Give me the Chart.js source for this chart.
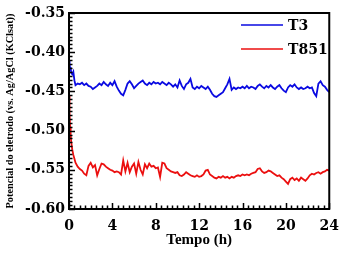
<!DOCTYPE html>
<html><head><meta charset="utf-8">
<script src="https://cdn.jsdelivr.net/npm/chart.js@4.4.1/dist/chart.umd.min.js"></script>
<style>html,body{margin:0;padding:0;background:#fff;}canvas{display:block;}</style>
</head><body>
<canvas id="c" width="348" height="257"></canvas>
<script>
const timeHours = [0,0.05,0.1,0.15,0.2,0.3,0.4,0.5,0.6,0.8,1.0,
 1.2,1.4,1.6,1.8,2.0,2.2,2.4,2.6,2.8,3.0,3.2,3.4,3.6,3.8,4.0,
 4.2,4.4,4.6,4.8,5.0,5.2,5.4,5.6,5.8,6.0,6.2,6.4,6.6,6.8,7.0,
 7.2,7.4,7.6,7.8,8.0,8.2,8.4,8.6,8.8,9.0,9.2,9.4,9.6,9.8,10.0,
 10.2,10.4,10.6,10.8,11.0,11.2,11.4,11.6,11.8,12.0,12.2,12.4,12.6,12.8,13.0,
 13.2,13.4,13.6,13.8,14.0,14.2,14.4,14.6,14.8,15.0,15.2,15.4,15.6,15.8,16.0,
 16.2,16.4,16.6,16.8,17.0,17.2,17.4,17.6,17.8,18.0,18.2,18.4,18.6,18.8,19.0,
 19.2,19.4,19.6,19.8,20.0,20.2,20.4,20.6,20.8,21.0,21.2,21.4,21.6,21.8,22.0,
 22.2,22.4,22.6,22.8,23.0,23.2,23.4,23.6,23.8,24.0];

const seriesT3 = [-0.410,-0.414,-0.422,-0.419,-0.426,-0.428,-0.425,-0.436,-0.442,-0.440,-0.441,
 -0.439,-0.442,-0.440,-0.443,-0.444,-0.447,-0.445,-0.443,-0.440,-0.442,-0.438,-0.441,-0.443,-0.439,-0.442,
 -0.437,-0.444,-0.449,-0.453,-0.455,-0.448,-0.440,-0.437,-0.441,-0.446,-0.443,-0.440,-0.438,-0.436,-0.440,
 -0.442,-0.439,-0.441,-0.438,-0.440,-0.439,-0.441,-0.438,-0.440,-0.442,-0.439,-0.441,-0.444,-0.441,-0.445,
 -0.436,-0.443,-0.447,-0.441,-0.439,-0.434,-0.445,-0.447,-0.444,-0.446,-0.443,-0.445,-0.447,-0.444,-0.448,
 -0.453,-0.456,-0.457,-0.455,-0.453,-0.451,-0.446,-0.441,-0.434,-0.448,-0.445,-0.447,-0.445,-0.446,-0.444,
 -0.446,-0.443,-0.446,-0.444,-0.445,-0.447,-0.443,-0.441,-0.444,-0.446,-0.443,-0.445,-0.442,-0.445,-0.447,
 -0.444,-0.442,-0.446,-0.449,-0.451,-0.445,-0.442,-0.444,-0.441,-0.445,-0.447,-0.445,-0.447,-0.446,-0.444,
 -0.446,-0.445,-0.452,-0.456,-0.440,-0.437,-0.442,-0.444,-0.448,-0.451];

const seriesT851 = [-0.455,-0.478,-0.495,-0.505,-0.514,-0.524,-0.531,-0.536,-0.541,-0.546,-0.549,
 -0.551,-0.555,-0.557,-0.545,-0.541,-0.547,-0.544,-0.557,-0.549,-0.542,-0.543,-0.546,-0.548,-0.550,-0.551,
 -0.553,-0.552,-0.553,-0.556,-0.538,-0.552,-0.541,-0.553,-0.546,-0.542,-0.555,-0.540,-0.550,-0.556,-0.543,
 -0.548,-0.542,-0.546,-0.545,-0.548,-0.547,-0.559,-0.541,-0.542,-0.548,-0.550,-0.552,-0.553,-0.554,-0.553,
 -0.557,-0.558,-0.556,-0.553,-0.555,-0.557,-0.558,-0.559,-0.557,-0.559,-0.558,-0.556,-0.551,-0.550,-0.556,
 -0.558,-0.560,-0.561,-0.559,-0.560,-0.558,-0.560,-0.559,-0.561,-0.559,-0.560,-0.558,-0.557,-0.558,-0.556,
 -0.557,-0.556,-0.557,-0.555,-0.554,-0.553,-0.549,-0.548,-0.552,-0.554,-0.553,-0.551,-0.552,-0.554,-0.556,
 -0.558,-0.557,-0.560,-0.562,-0.565,-0.568,-0.562,-0.560,-0.563,-0.561,-0.564,-0.560,-0.562,-0.564,-0.561,
 -0.557,-0.555,-0.556,-0.554,-0.553,-0.555,-0.553,-0.552,-0.550,-0.551];

const seriesNames = ['T3','T851'];
const seriesColors = ['rgb(10,10,225)','rgb(235,15,15)'];
const xTickLabels = [0,4,8,12,16,20,24];
const yTickLabels = [-0.60,-0.55,-0.50,-0.45,-0.40,-0.35];
const xTitle = 'Tempo (h)';
const yTitle = 'Potencial do eletrodo (vs. Ag/AgCl (KClsat))';

const tickFont = {family:'DejaVu Serif', weight:'bold', size:14};

function pts(vals){ return timeHours.map((t,i)=>({x:t,y:vals[i]})); }

const framePlugin = {
  id:'frame',
  afterDatasetsDraw(chart){
    const {ctx, chartArea:a, scales:{x,y}} = chart;
    ctx.save();
    ctx.strokeStyle='#000';
    ctx.lineWidth=1.5;
    ctx.beginPath();
    for(let k=0;k<=48;k++){
      const px=Math.round(x.getPixelForValue(k*0.5))+0.5;
      const len=(k%8===0)?6:3.5;
      ctx.moveTo(px,a.bottom); ctx.lineTo(px,a.bottom-len);
    }
    for(let k=0;k<=50;k++){
      const v=-0.60+k*0.005;
      const py=Math.round(y.getPixelForValue(v))+0.5;
      const len=(k%10===0)?6:3.5;
      ctx.moveTo(a.left,py); ctx.lineTo(a.left+len,py);
    }
    ctx.stroke();
    ctx.lineWidth=2;
    ctx.strokeRect(a.left,a.top,a.right-a.left,a.bottom-a.top);
    const lx0=241, lx1=283, ly=[25,49];
    ctx.font='bold 14px "DejaVu Serif"';
    ctx.textBaseline='middle';
    ctx.textAlign='left';
    chart.data.datasets.forEach((ds,i)=>{
      ctx.strokeStyle=ds.borderColor; ctx.lineWidth=1.5;
      ctx.beginPath(); ctx.moveTo(lx0,ly[i]); ctx.lineTo(lx1,ly[i]); ctx.stroke();
      ctx.fillStyle='#000';
      ctx.fillText(ds.label,288,ly[i]+1);
    });
    ctx.restore();
  }
};

new Chart(document.getElementById('c'),{
  type:'line',
  data:{datasets:[
    {label:seriesNames[0],data:pts(seriesT3),borderColor:seriesColors[0],borderWidth:1.8,pointRadius:0,tension:0,fill:false},
    {label:seriesNames[1],data:pts(seriesT851),borderColor:seriesColors[1],borderWidth:1.8,pointRadius:0,tension:0,fill:false}
  ]},
  options:{
    responsive:false, animation:false, devicePixelRatio:1,
    layout:{padding:{left:0,top:13,right:15,bottom:0}},
    plugins:{legend:{display:false},tooltip:{enabled:false}},
    scales:{
      x:{type:'linear',min:0,max:24,
        afterBuildTicks(s){ s.ticks = xTickLabels.map(v=>({value:v})); },
        afterFit(s){ s.height=48; },
        grid:{display:false,drawTicks:false},border:{display:false},
        ticks:{color:'#000',font:tickFont,padding:9,maxRotation:0,autoSkip:false},
        title:{display:true,text:xTitle,color:'#000',font:{family:'Liberation Serif',weight:'bold',size:15},padding:{top:0,bottom:8}}
      },
      y:{type:'linear',min:-0.60,max:-0.35,
        afterBuildTicks(s){ s.ticks = yTickLabels.map(v=>({value:v})); },
        afterFit(s){ s.width=69; },
        grid:{display:false,drawTicks:false},border:{display:false},
        ticks:{color:'#000',font:tickFont,padding:4,callback:v=>Number(v).toFixed(2)},
        title:{display:true,text:yTitle,color:'#000',font:{family:'Liberation Serif',weight:'bold',size:10.3},padding:{top:4,bottom:0}}
      }
    }
  },
  plugins:[framePlugin]
});
</script>
</body></html>
